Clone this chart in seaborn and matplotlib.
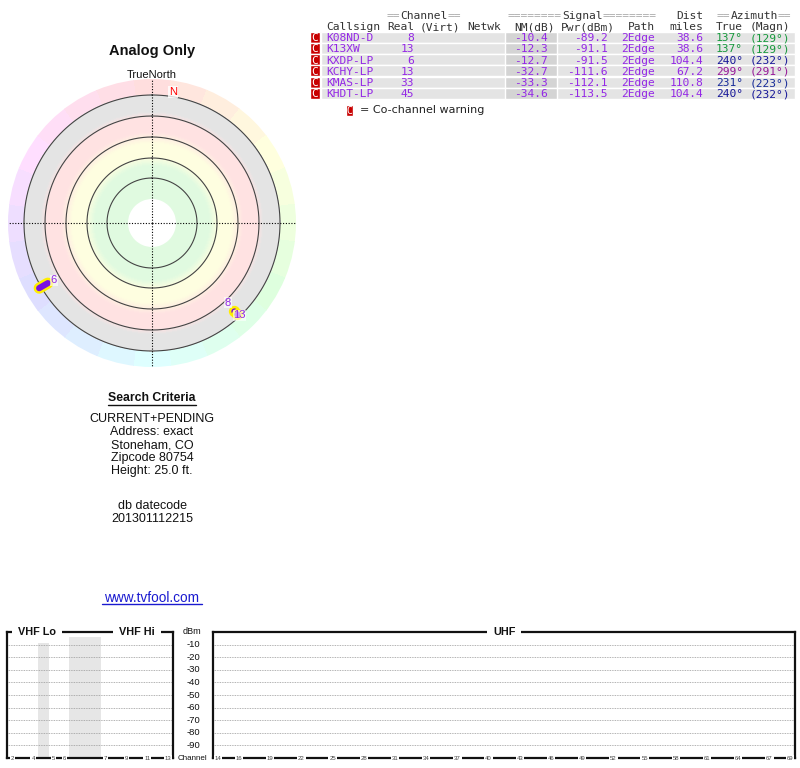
import colorsys
import numpy as np
import pandas as pd
import matplotlib
matplotlib.use("Agg")
import matplotlib.pyplot as plt
import matplotlib.colors as mcolors
import seaborn as sns

# -----------------------------
# DATA
# -----------------------------
callsigns = ["K08ND-D", "K13XW", "KXDP-LP", "KCHY-LP", "KMAS-LP", "KHDT-LP"]
real_ch = [8, 13, 6, 13, 33, 45]
nm_db = [-10.4, -12.3, -12.7, -32.7, -33.3, -34.6]
pwr_dbm = [-89.2, -91.1, -91.5, -111.6, -112.1, -113.5]
paths = ["2Edge", "2Edge", "2Edge", "2Edge", "2Edge", "2Edge"]
dist_mi = [38.6, 38.6, 104.4, 67.2, 110.8, 104.4]
az_true = [137, 137, 240, 299, 231, 240]
az_magn = [129, 129, 232, 291, 223, 232]

vhf_slots = [2, 3, 4, None, 5, 6, None, None, None, 7, 8, 9, 10, 11, 12, 13]
vhf_ticks = [2, 4, 5, 6, 7, 9, 11, 13]
uhf_ticks = [14, 16, 19, 22, 25, 28, 31, 34, 37, 40, 43, 46, 49, 52, 55, 58,
             61, 64, 67, 69]
dbm_levels = [-10, -20, -30, -40, -50, -60, -70, -80, -90]

search_lines = ["CURRENT+PENDING", "Address: exact", "Stoneham, CO",
                "Zipcode 80754", "Height: 25.0 ft."]
datecode_lines = ["db datecode", "201301112215"]

df = pd.DataFrame({
    "callsign": callsigns, "real": real_ch, "nm": nm_db, "pwr": pwr_dbm,
    "path": paths, "dist": dist_mi, "az": az_true, "magn": az_magn
})

# -----------------------------
# STYLE
# -----------------------------
sns.set_theme(style="white")
plt.rcParams["font.family"] = ["Liberation Sans", "DejaVu Sans"]

PURPLE = "#9428e6"
MONO = "DejaVu Sans Mono"


def az_color(az, s=0.84, v=0.6):
    return colorsys.hsv_to_rgb((az % 360) / 360.0, s, v)


fig = plt.figure(figsize=(8, 7.68), dpi=100)
fig.patch.set_facecolor("white")

# pixel-space axes for table and free text
ax_bg = fig.add_axes([0, 0, 1, 1])
ax_bg.set_xlim(0, 800)
ax_bg.set_ylim(768, 0)
ax_bg.axis("off")

# -----------------------------
# LEFT TEXT
# -----------------------------
ax_bg.text(152, 51, "Analog Only", ha="center", va="center",
           fontsize=10.5, fontweight="bold", color="#111")
ax_bg.text(152, 75, "TrueNorth", ha="center", va="center",
           fontsize=8, color="#111")

ax_bg.text(152, 398, "Search Criteria", ha="center", va="center",
           fontsize=8.8, fontweight="bold", color="#111")
ax_bg.plot([108, 196], [405, 405], color="#111", lw=1)
for i, line in enumerate(search_lines):
    ax_bg.text(152, 419 + i * 13, line, ha="center", va="center",
               fontsize=9, color="#111")
for i, line in enumerate(datecode_lines):
    ax_bg.text(152, 506 + i * 13, line, ha="center", va="center",
               fontsize=9, color="#111")
ax_bg.text(152, 598, "www.tvfool.com", ha="center", va="center",
           fontsize=9.8, color="#1a1ad0")
ax_bg.plot([102, 202], [604, 604], color="#1a1ad0", lw=1)

# -----------------------------
# TABLE
# -----------------------------
row_h = 11.2
row_y = 31.7 + row_h * (np.arange(len(df)) + 0.5)

ax_bg.barh(row_y, width=474, left=321, height=row_h, color="#e4e4e4",
           edgecolor="white", linewidth=1)
ax_bg.barh(row_y, width=52, left=505, height=row_h, color="#d4d4d4",
           edgecolor="white", linewidth=1)
ax_bg.barh(row_y, width=10, left=310, height=row_h, color="#c80000",
           edgecolor="white", linewidth=1)

tsz = 8.1
cw = 0.602 * tsz * 100 / 72      # monospace advance in px
hdr_dark = "#333333"
hdr_eq = "#a8a8a8"


def mono(x, y, s, ha="left", color=hdr_dark):
    # y is the visual middle of the capitals
    ax_bg.text(x, y + 4, s, ha=ha, va="baseline", fontsize=tsz,
               family=MONO, color=color)


def group_header(x0, y, n_eq, word):
    mono(x0, y, "=" * n_eq, color=hdr_eq)
    mono(x0 + n_eq * cw, y, word)
    mono(x0 + (n_eq + len(word)) * cw, y, "=" * n_eq, color=hdr_eq)


group_header(387, 15, 2, "Channel")
group_header(508, 15, 8, "Signal")
group_header(717, 15, 2, "Azimuth")
mono(703, 15, "Dist", ha="right")

hdr2 = [(326, "Callsign", "left"), (414, "Real", "right"),
        (460, "(Virt)", "right"), (501, "Netwk", "right"),
        (555, "NM(dB)", "right"), (615, "Pwr(dBm)", "right"),
        (655, "Path", "right"), (703, "miles", "right"),
        (743, "True", "right"), (790, "(Magn)", "right")]
for x, s, ha in hdr2:
    mono(x, 26, s, ha=ha)

for i, r in df.iterrows():
    y = row_y[i]
    mono(315, y, "C", ha="center", color="white")
    mono(326, y, r["callsign"], color=PURPLE)
    mono(414, y, f"{r['real']}", ha="right", color=PURPLE)
    mono(548, y, f"{r['nm']:.1f}", ha="right", color=PURPLE)
    mono(608, y, f"{r['pwr']:.1f}", ha="right", color=PURPLE)
    mono(655, y, r["path"], ha="right", color=PURPLE)
    mono(703, y, f"{r['dist']:.1f}", ha="right", color=PURPLE)
    c = az_color(r["az"])
    mono(743, y, f"{r['az']}\u00b0", ha="right", color=c)
    mono(790, y, f"({r['magn']}\u00b0)", ha="right", color=c)

ax_bg.barh([110], width=7, left=346, height=11, color="#c80000")
ax_bg.text(349.5, 113.5, "C", ha="center", va="baseline", fontsize=7,
           family=MONO, color="white")
ax_bg.text(360, 110, "= Co-channel warning", ha="left", va="center",
           fontsize=8, family="DejaVu Sans", color="#222")

# -----------------------------
# RADAR PLOT
# -----------------------------
R_MAX = 144
axp = fig.add_axes([8 / 800, 1 - 367 / 768, 288 / 800, 288 / 768],
                   projection="polar")
axp.set_theta_zero_location("N")
axp.set_theta_direction(-1)
axp.set_ylim(0, R_MAX)

# outer compass ring, tinted by direction
n_wedge = 24
wedge_az = np.arange(n_wedge) * 360 / n_wedge
axp.bar(np.radians(wedge_az), height=16, width=2 * np.pi / n_wedge,
        bottom=128, color=[colorsys.hsv_to_rgb(a / 360, 0.13, 1.0)
                           for a in wedge_az],
        linewidth=0, antialiased=False)

# signal-strength bands, blended between colour stops
stop_r = [24, 58, 67, 80, 92, 106, 112, 128]
stop_c = ["#e0fae0", "#e0fae0", "#fefee0", "#fefee0", "#ffe2e2", "#ffe2e2",
          "#e4e4e4", "#e4e4e4"]
stop_rgb = np.array([mcolors.to_rgb(c) for c in stop_c])
edges = np.arange(24, 128.5, 1.0)
mids = edges[:-1] + 0.5
band_cols = np.column_stack([np.interp(mids, stop_r, stop_rgb[:, k])
                             for k in range(3)])
axp.bar(np.zeros(len(mids)), height=1.05, width=2 * np.pi,
        bottom=edges[:-1], color=band_cols, linewidth=0, antialiased=False)
axp.bar(0, height=24, width=2 * np.pi, bottom=0, color="white",
        linewidth=0)

theta = np.linspace(0, 2 * np.pi, 361)
for rr in [45, 65, 86, 107, 128]:
    axp.plot(theta, np.full_like(theta, rr), color="#444444", lw=0.8)

for a in [0, 90, 180, 270]:
    axp.plot([np.radians(a)] * 2, [0, R_MAX], color="black", lw=0.8,
             ls=(0, (1, 1.5)))

axp.text(np.radians(9), 133, "N", ha="center", va="center", fontsize=8,
         color="red", bbox=dict(boxstyle="square,pad=0.1", fc="white",
                                ec="none", alpha=0.8))


def nm_to_r(nm):
    # 2.1 px per dB, outer ring at -14 dB
    return 128 - 2.1 * (nm + 14)


vis = df[df["nm"] > -20].copy()
vis["r"] = nm_to_r(vis["nm"])
vis["th"] = np.radians(vis["az"])

label_off = {8: (-4.5, 6), 13: (2, -1), 6: (7.5, 4)}
for _, r in vis.iterrows():
    if r["real"] == 6:
        rs = [r["r"] - 5, r["r"] + 5]
        axp.plot([r["th"]] * 2, rs, color="#ffee00", lw=8,
                 solid_capstyle="round", zorder=4)
        axp.plot([r["th"]] * 2, rs, color="#7a10e0", lw=4.5,
                 solid_capstyle="round", zorder=4)

dots = vis[vis["real"] != 6]
sns.scatterplot(x=dots["th"].values, y=dots["r"].values, ax=axp, s=40,
                color="#7a10e0", edgecolor="#ffee00", linewidth=1.8,
                legend=False, zorder=5)
axp.set_ylim(0, R_MAX)
axp.axis("off")

for _, r in vis.iterrows():
    axp.annotate(str(r["real"]), (r["th"], r["r"]),
                 xytext=label_off.get(r["real"], (5, 5)),
                 textcoords="offset points", ha="center", va="center",
                 fontsize=8, color=PURPLE, zorder=6,
                 bbox=dict(boxstyle="square,pad=0.05", fc="white",
                           ec="none", alpha=0.6))

# -----------------------------
# SPECTRUM PANELS
# -----------------------------
SLOT_PX = 10.4
PANEL_TOP, PANEL_BOT = 632, 758


def panel(left_px, x_lo, x_hi):
    w = (x_hi - x_lo) * SLOT_PX
    ax = fig.add_axes([left_px / 800, (768 - PANEL_BOT) / 768, w / 800,
                       (PANEL_BOT - PANEL_TOP) / 768])
    ax.set_xlim(x_lo, x_hi)
    ax.set_ylim(-100, 0)
    ax.set_xticks([])
    ax.set_yticks([])
    ax.set_facecolor("white")
    for sp in ax.spines.values():
        sp.set_visible(True)
        sp.set_color("#111")
        sp.set_linewidth(1.6)
    for v in dbm_levels:
        ax.axhline(v, color="#999", lw=0.6, ls=(0, (1, 1)), zorder=1)
    return ax


def title(ax, x, s):
    ax.text(x, 0, s, ha="center", va="center", fontsize=7.8,
            fontweight="bold", color="#111", zorder=5, clip_on=False,
            bbox=dict(boxstyle="square,pad=0.55", fc="white", ec="none"))


def tick_labels(ax, xs, labels):
    for x, s in zip(xs, labels):
        ax.text(x, -100, s, ha="center", va="center", fontsize=4.3,
                color="#444", zorder=5, clip_on=False,
                bbox=dict(boxstyle="square,pad=0.15", fc="white",
                          ec="none"))


ax_v = panel(7, -0.5, len(vhf_slots) - 0.5)
for i, ch in enumerate(vhf_slots):
    if ch is None:
        ax_v.axvspan(i - 0.5, i + 0.5, ymin=0, ymax=0.96, color="#e6e6e6",
                     lw=0, zorder=0)
lo = [i for i, c in enumerate(vhf_slots) if c is not None and c <= 6]
hi = [i for i, c in enumerate(vhf_slots) if c is not None and c >= 7]
title(ax_v, np.mean(lo), "VHF Lo")
title(ax_v, np.mean(hi), "VHF Hi")
tick_labels(ax_v, [vhf_slots.index(c) for c in vhf_ticks],
            [str(c) for c in vhf_ticks])

ax_u = panel(213, 13.5, 69.5)
title(ax_u, (14 + 69) / 2, "UHF")
tick_labels(ax_u, uhf_ticks, [str(c) for c in uhf_ticks])

# dBm scale between the panels
xm = ax_v.get_yaxis_transform()
x_mid = (192 - 7) / (16 * SLOT_PX)
ax_v.text(x_mid, 0, "dBm", transform=xm, ha="center", va="center",
          fontsize=6.5, color="#111", clip_on=False)
for v in dbm_levels:
    ax_v.text(x_mid + 0.008, v, str(v), transform=xm, ha="center",
              va="center", fontsize=6.8, color="#111", clip_on=False)
ax_v.text(x_mid, -100, "Channel", transform=xm, ha="center", va="center",
          fontsize=5.8, color="#111", clip_on=False)

fig.savefig("out.png", dpi=100, facecolor="white")
